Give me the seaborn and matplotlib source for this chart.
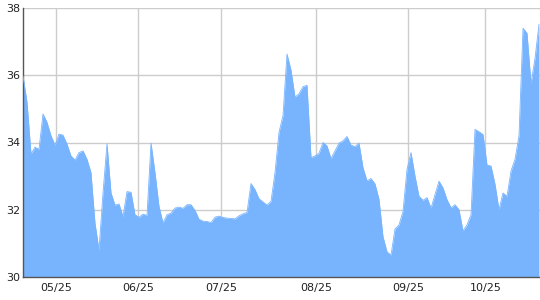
import numpy as np
import pandas as pd
import matplotlib
matplotlib.use("Agg")
import matplotlib.pyplot as plt
import seaborn as sns

values = [
    35.98, 35.2, 33.66, 33.86, 33.8, 34.85, 34.6, 34.2, 33.92, 34.25,
    34.22, 33.95, 33.6, 33.48, 33.7, 33.75, 33.5, 33.1, 31.6, 30.8,
    32.5, 33.96, 32.5, 32.14, 32.17, 31.8, 32.54, 32.52, 31.85, 31.78,
    31.87, 31.83, 33.98, 33.1, 32.1, 31.61, 31.85, 31.9, 32.05, 32.08,
    32.04, 32.15, 32.15, 31.98, 31.72, 31.66, 31.65, 31.62, 31.78, 31.81,
    31.77, 31.75, 31.74, 31.73, 31.82, 31.88, 31.92, 32.78, 32.6, 32.33,
    32.23, 32.14, 32.25, 33.1, 34.3, 34.8, 36.63, 36.15, 35.35, 35.45,
    35.66, 35.7, 33.55, 33.6, 33.68, 34.0, 33.9, 33.52, 33.75, 33.98,
    34.05, 34.18, 33.92, 33.88, 33.98, 33.25, 32.86, 32.93, 32.77, 32.31,
    31.2, 30.75, 30.65, 31.43, 31.55, 31.95, 33.2, 33.7, 33.0, 32.4,
    32.28, 32.36, 32.05, 32.45, 32.85, 32.65, 32.3, 32.06, 32.15, 32.0,
    31.37, 31.55, 31.85, 34.39, 34.32, 34.24, 33.33, 33.3, 32.76, 32.0,
    32.5, 32.4, 33.15, 33.5, 34.2, 37.4, 37.25, 35.75, 36.5, 37.52,
]
month_labels = ["05/25", "06/25", "07/25", "08/25", "09/25", "10/25"]
month_pos = [8.33, 28.8, 49.6, 73.3, 96.2, 115.6]
y_ticks = [30, 32, 34, 36, 38]

df = pd.DataFrame({"idx": np.arange(len(values)), "value": values})

sns.set_style("white")
plt.rcParams["font.family"] = ["DejaVu Sans"]

fig = plt.figure(figsize=(5.4, 3.0), dpi=100)
ax = fig.add_axes([23 / 540, 23 / 300, 517 / 540, 269 / 300])

fill_color = "#78b4fe"
ax.fill_between(df["idx"], 30, df["value"], color=fill_color, linewidth=0, zorder=2)
sns.lineplot(data=df, x="idx", y="value", ax=ax, color=fill_color, linewidth=0.6, zorder=3)

ax.set_xlim(0, len(values) - 0.75)
ax.set_ylim(30, 38)

ax.set_yticks(y_ticks)
ax.set_yticklabels([str(v) for v in y_ticks], fontsize=8, color="#222222")
ax.set_xticks(month_pos)
ax.set_xticklabels(month_labels, fontsize=8, color="#222222")
ax.set_xticks(df["idx"], minor=True)
ax.tick_params(axis="x", which="major", length=0, pad=4)
ax.tick_params(axis="x", which="minor", length=3, width=0.8, color="#333333", direction="out")
ax.tick_params(axis="y", which="major", length=0, pad=2)

ax.grid(True, which="major", color="#cccccc", linewidth=1, zorder=0)
ax.set_axisbelow(True)

for side in ["top", "right"]:
    ax.spines[side].set_visible(False)
ax.spines["left"].set_color("#555555")
ax.spines["left"].set_linewidth(1)
ax.spines["bottom"].set_color("#555555")
ax.spines["bottom"].set_linewidth(1)
ax.set_xlabel("")
ax.set_ylabel("")

fig.savefig("out.png", dpi=100)
